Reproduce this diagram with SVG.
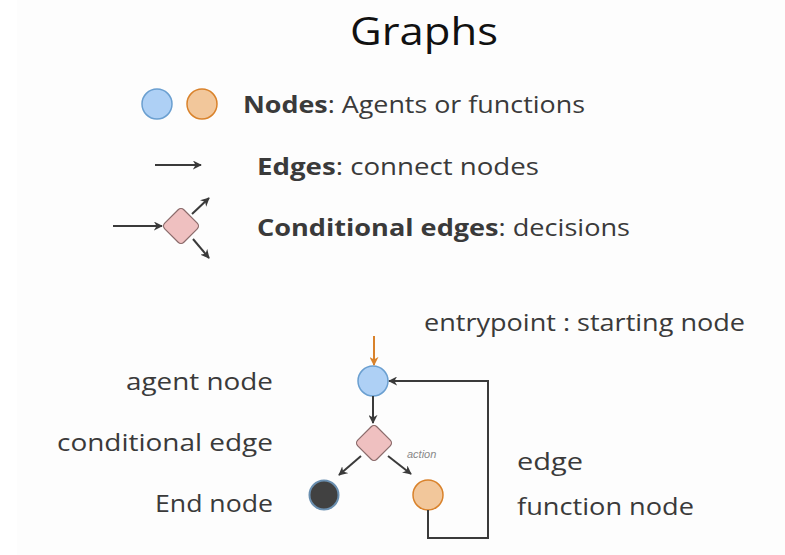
<svg xmlns="http://www.w3.org/2000/svg" width="785" height="555" viewBox="0 0 785 555">
<defs>
<style>
.t{font-family:"Open Sans","Liberation Sans",sans-serif;font-size:24px;fill:#3a3a3a}
.b{font-weight:bold}
.title{font-family:"Open Sans","Liberation Sans",sans-serif;font-size:38px;fill:#111}
.act{font-family:"Liberation Sans",Arial,sans-serif;font-size:11px;font-style:italic;fill:#888}
.e{stroke:#3a3a3a;stroke-width:2;fill:none}
.blue{fill:#aed0f5;stroke:#6a9fd0;stroke-width:1.5}
.orange{fill:#f2c79b;stroke:#d9822b;stroke-width:1.5}
.dia{fill:#efc0c0;stroke:#8a6a6a;stroke-width:1.2}
</style>
<marker id="ah" viewBox="0 0 10 10" refX="9" refY="5" markerWidth="9" markerHeight="9" markerUnits="userSpaceOnUse" orient="auto">
<path d="M0,0 L10,5 L0,10 L3,5 Z" fill="#3a3a3a"/>
</marker>
<marker id="aho" viewBox="0 0 10 10" refX="9" refY="5" markerWidth="9" markerHeight="9" markerUnits="userSpaceOnUse" orient="auto">
<path d="M0,0 L10,5 L0,10 L3,5 Z" fill="#d9822b"/>
</marker>
</defs>
<rect width="785" height="555" fill="#ffffff"/>
<rect x="17" y="0" width="768" height="555" fill="#fdfdfd"/>
<text class="title" x="350" y="45" textLength="148" lengthAdjust="spacingAndGlyphs">Graphs</text>

<g id="legend-nodes">
<circle class="blue" cx="157" cy="104" r="15"/>
<circle class="orange" cx="202" cy="104" r="15"/>
<text class="t" x="243" y="113" textLength="342" lengthAdjust="spacingAndGlyphs"><tspan class="b">Nodes</tspan>: Agents or functions</text>
</g>
<g id="legend-edges">
<text class="t" x="257" y="175" textLength="282" lengthAdjust="spacingAndGlyphs"><tspan class="b">Edges</tspan>: connect nodes</text>
</g>
<g id="legend-cond">
<rect class="dia" x="167.5" y="212.5" width="27" height="27" rx="4" transform="rotate(45 181 226)"/>
<text class="t" x="257" y="236" textLength="373" lengthAdjust="spacingAndGlyphs"><tspan class="b">Conditional edges</tspan>: decisions</text>
</g>

<g id="labels">
<text class="t" x="424" y="331" textLength="321" lengthAdjust="spacingAndGlyphs">entrypoint : starting node</text>
<text class="t" x="126" y="390" textLength="147" lengthAdjust="spacingAndGlyphs">agent node</text>
<text class="t" x="57" y="451" textLength="216" lengthAdjust="spacingAndGlyphs">conditional edge</text>
<text class="t" x="155" y="512" textLength="118" lengthAdjust="spacingAndGlyphs">End node</text>
<text class="t" x="517" y="470" textLength="66" lengthAdjust="spacingAndGlyphs">edge</text>
<text class="t" x="517" y="515" textLength="177" lengthAdjust="spacingAndGlyphs">function node</text>
</g>

<g id="agent-node"><circle class="blue" cx="373" cy="381" r="15"/></g>
<g id="cond-node"><rect class="dia" x="360.5" y="429.5" width="27" height="27" rx="4" transform="rotate(45 374 443)"/></g>
<g id="end-node"><circle cx="324" cy="495" r="14.5" fill="#414141" stroke="#6a8fb0" stroke-width="2"/></g>
<g id="function-node"><circle class="orange" cx="428" cy="495" r="15"/></g>

<g id="connectors">
<line class="e" x1="155" y1="165" x2="201" y2="165" marker-end="url(#ah)"/>
<line class="e" x1="113" y1="226" x2="162" y2="226" marker-end="url(#ah)"/>
<line class="e" x1="192" y1="214" x2="209" y2="198" marker-end="url(#ah)"/>
<line class="e" x1="193" y1="239" x2="209" y2="258" marker-end="url(#ah)"/>
<line x1="374" y1="336" x2="374" y2="365" stroke="#d9822b" stroke-width="2" marker-end="url(#aho)"/>
<line class="e" x1="373" y1="396" x2="373" y2="423" marker-end="url(#ah)"/>
<line class="e" x1="361" y1="456" x2="339" y2="475" marker-end="url(#ah)"/>
<line class="e" x1="388" y1="456" x2="411" y2="474" marker-end="url(#ah)"/>
<polyline class="e" points="428,510 428,538 488,538 488,381 389,381" marker-end="url(#ah)"/>
<text class="act" x="407" y="458">action</text>
</g>
</svg>
